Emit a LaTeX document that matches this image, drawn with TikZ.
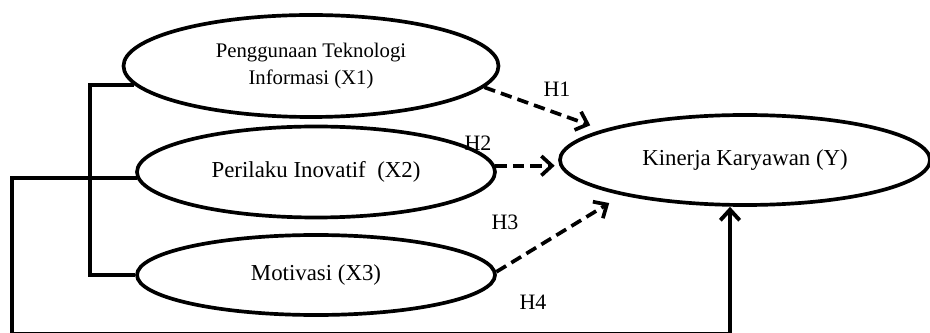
\documentclass[tikz,border=0pt]{standalone}
\usepackage{fontspec}
\setmainfont{Liberation Serif}
\usetikzlibrary{shapes.geometric,arrows.meta}

\begin{document}
\begin{tikzpicture}[
    var/.style={ellipse, draw, line width=2.1pt, inner sep=0pt, align=center, font=\fontsize{13}{15.6}\selectfont},
    link/.style={line width=2.2pt},
    tip/.style={-{Straight Barb[length=6pt,width=11pt]}},
    hyp/.style={line width=2.1pt, dash pattern=on 6.5pt off 3.5pt, -{Straight Barb[length=6pt,width=11pt]}},
    hlabel/.style={inner sep=0pt, font=\fontsize{12.5}{15}\selectfont}
]
    \useasboundingbox (0, 0) rectangle (18.6, 6.64);

    \node[var, minimum width=7.5cm, minimum height=2.04cm, font=\fontsize{11.8}{15.3}\selectfont] at (6.22, 5.32)(x1){Penggunaan Teknologi\\Informasi (X1)};
    \node[var, minimum width=7.16cm, minimum height=1.82cm] at (6.32, 3.20)(x2){Perilaku Inovatif\ \ (X2)};
    \node[var, minimum width=7.16cm, minimum height=1.60cm] at (6.32, 1.14)(x3){Motivasi (X3)};
    \node[var, minimum width=7.4cm, minimum height=1.8cm] at (14.9, 3.44)(y){Kinerja Karyawan (Y)};

    \coordinate (br) at (1.8, 1.14);
    \coordinate (loop) at (0.24, -0.04);

    \node[hlabel] at (11.14, 4.86)(h1){H1};
    \node[hlabel] at (9.56, 3.78)(h2){H2};
    \node[hlabel] at (10.1, 2.2)(h3){H3};
    \node[hlabel] at (10.66, 0.6)(h4){H4};

    % bracket joining the three variables
    \draw[link] (x1.186) -| (br) -- (x3.west);
    \draw[link, tip] (x2.182) -| (loop) -| ([xshift=-0.3cm]y.south);

    % hypotheses
    \draw[hyp, shorten >=0.26cm] (x1.353) -- (y.168);
    \draw[hyp, shorten >=2pt] (x2.2) -- (x2.2 -| y.west);
    \draw[hyp, shorten >=0.3cm] (x3.1) -- (y.196);
\end{tikzpicture}
\end{document}
